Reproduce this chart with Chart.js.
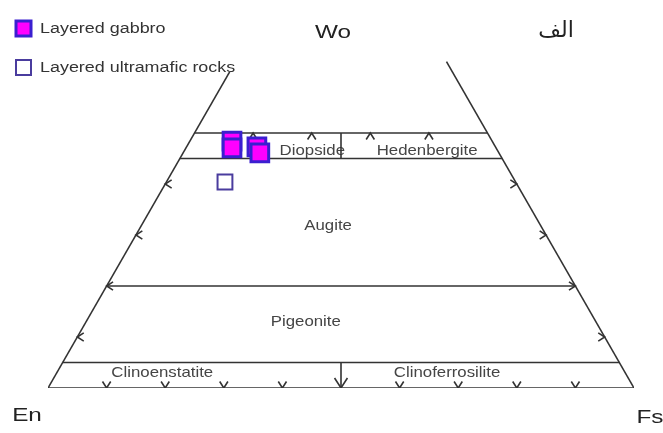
<!DOCTYPE html>
<html>
<head>
<meta charset="utf-8">
<script src="https://cdn.jsdelivr.net/npm/chart.js@4.4.1/dist/chart.umd.min.js"></script>
<style>
html, body { margin: 0; padding: 0; background: #fff; }
#wrap { width: 663px; height: 433px; }
</style>
</head>
<body>
<div id="wrap"><canvas id="myChart"></canvas></div>
<script>
// pyroxene analyses, mol % (Wo, En, Fs)
var gabbroWo = [48.4, 47.1, 47.3, 46.1];
var gabbroEn = [44.4, 45.05, 40.7, 40.8];
var gabbroFs = [7.2, 7.85, 12.0, 13.1];
var ultraWo = [40.4];
var ultraEn = [49.6];
var ultraFs = [10.0];

// field boundaries (Wo %) and tick marks
var boundaryWo = [0, 5, 20, 45, 50];
var sideTicksWo = [10, 20, 30, 40];
var bottomTicks = [10, 20, 30, 40, 60, 70, 80, 90];
var topTicksFs = [10, 20, 30, 40];
var fieldNames = ['Diopside', 'Hedenbergite', 'Augite', 'Pigeonite', 'Clinoenstatite', 'Clinoferrosilite'];

var H = Math.sqrt(3) / 2;
function tern(wo, fs) {
	return {x: fs + wo / 2, y: wo * H};
}
function samples(wo, fs) {
	return wo.map(function (w, i) { return tern(w, fs[i]); });
}

var lineColor = '#333';
var lines = [];
// horizontal boundaries
boundaryWo.forEach(function (w) {
	lines.push([tern(w, 0), tern(w, 100 - w)]);
});
// triangle sides
lines.push([tern(0, 0), tern(62, 0)]);
lines.push([tern(0, 100), tern(64, 36)]);
// En = Fs dividers
lines.push([tern(45, 27.5), tern(50, 25)]);
lines.push([tern(5, 47.5), tern(0, 50)]);
lines.push([{x: 48.9, y: 1.7}, tern(0, 50), {x: 51.1, y: 1.7}]);
// small arrow ticks
sideTicksWo.forEach(function (w) {
	var l = tern(w, 0), r = tern(w, 100 - w);
	lines.push([{x: l.x + 1.1, y: l.y + 0.7}, l, {x: l.x + 1.1, y: l.y - 0.7}]);
	lines.push([{x: r.x - 1.1, y: r.y + 0.7}, r, {x: r.x - 1.1, y: r.y - 0.7}]);
});
bottomTicks.forEach(function (t) {
	lines.push([{x: t - 0.7, y: 1.1}, {x: t, y: 0}, {x: t + 0.7, y: 1.1}]);
});
topTicksFs.forEach(function (f) {
	var p = tern(50, f);
	lines.push([{x: p.x - 0.7, y: p.y - 1.1}, p, {x: p.x + 0.7, y: p.y - 1.1}]);
});

var datasets = [
	{
		label: 'Layered gabbro',
		data: samples(gabbroWo, gabbroFs),
		pointStyle: 'rect',
		pointRadius: 12.5,
		backgroundColor: '#ff00ff',
		borderColor: '#3a1fd0',
		borderWidth: 3
	},
	{
		label: 'Layered ultramafic rocks',
		data: samples(ultraWo, ultraFs),
		pointStyle: 'rect',
		pointRadius: 10.5,
		backgroundColor: 'rgba(255,255,255,0)',
		borderColor: '#4a3c9e',
		borderWidth: 2
	}
];
lines.forEach(function (seg) {
	datasets.push({
		data: seg,
		showLine: true,
		pointRadius: 0,
		borderColor: lineColor,
		borderWidth: 1.6,
		fill: false
	});
});

function stretchText(ctx, txt, x, y, font, sx, color) {
	ctx.save();
	ctx.font = font;
	ctx.fillStyle = color;
	ctx.textAlign = 'center';
	ctx.textBaseline = 'middle';
	ctx.translate(x, y);
	ctx.scale(sx, 1);
	ctx.fillText(txt, 0, 0);
	ctx.restore();
}

var labelsPlugin = {
	id: 'labels',
	beforeDatasetsDraw: function (chart) {
		var ctx = chart.ctx, xs = chart.scales.x, ys = chart.scales.y;
		var pos = [[45.1, 40.3], [64.7, 40.3], [47.8, 27.6], [44.0, 11.3], [19.5, 2.6], [68.1, 2.6]];
		fieldNames.forEach(function (name, i) {
			stretchText(ctx, name, xs.getPixelForValue(pos[i][0]), ys.getPixelForValue(pos[i][1]),
				'15px "Liberation Sans"', 1.12, '#454545');
		});
	},
	afterDraw: function (chart) {
		var ctx = chart.ctx, xs = chart.scales.x, ys = chart.scales.y;
		var big = '18px "Liberation Sans"';
		stretchText(ctx, 'Wo', xs.getPixelForValue(50) - 8, 33, big, 1.35, '#222');
		stretchText(ctx, 'الف', 556, 31, '22px "DejaVu Sans"', 1.0, '#222');
		stretchText(ctx, 'En', xs.getPixelForValue(0) - 21, ys.getPixelForValue(0) + 28, big, 1.35, '#222');
		stretchText(ctx, 'Fs', xs.getPixelForValue(100) + 16, ys.getPixelForValue(0) + 30, big, 1.35, '#222');

		// legend
		var items = [datasets[0], datasets[1]];
		items.forEach(function (ds, i) {
			var cy = 28 + i * 39;
			ctx.save();
			ctx.fillStyle = ds.backgroundColor;
			ctx.strokeStyle = ds.borderColor;
			ctx.lineWidth = ds.borderWidth;
			ctx.fillRect(16, cy - 7, 15, 15);
			ctx.strokeRect(16, cy - 7, 15, 15);
			ctx.restore();
			ctx.save();
			ctx.font = '14px "Liberation Sans"';
			ctx.fillStyle = '#333';
			ctx.textBaseline = 'middle';
			ctx.translate(40, cy + 1);
			ctx.scale(1.28, 1);
			ctx.fillText(ds.label, 0, 0);
			ctx.restore();
		});
	}
};

var ctx = document.getElementById('myChart').getContext('2d');
var chart = new Chart(ctx, {
	type: 'scatter',
	data: {datasets: datasets},
	options: {
		responsive: true,
		maintainAspectRatio: false,
		animation: false,
		layout: {autoPadding: false, padding: {left: 48, right: 29, top: 0, bottom: 45}},
		scales: {
			x: {display: false, min: 0, max: 100},
			y: {display: false, min: 0, max: 65.9}
		},
		plugins: {
			legend: {display: false},
			tooltip: {enabled: false}
		},
		elements: {line: {tension: 0}}
	},
	plugins: [labelsPlugin]
});
</script>
</body>
</html>
